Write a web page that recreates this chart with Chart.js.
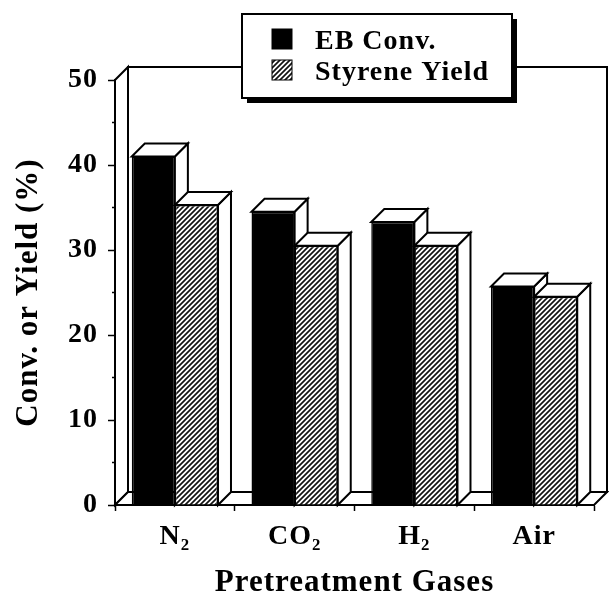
<!DOCTYPE html>
<html><head><meta charset="utf-8">
<style>html,body{margin:0;padding:0;background:#fff}canvas{display:block}</style>
<script src="https://cdn.jsdelivr.net/npm/chart.js@4"></script></head>
<body><canvas id="c" width="609" height="595" style="width:609px;height:595px"></canvas>
<script>
const categories = ['N₂','CO₂','H₂','Air'];
const ebConv = [41, 34.5, 33.3, 25.7];
const styreneYield = [35.3, 30.5, 30.5, 24.5];
const yMinorTicks = [5,15,25,35,45];
const seriesNames = ['EB Conv.','Styrene Yield'];
const FONT = '"Liberation Serif","Times New Roman",serif';
const DEPTH = 13;

function hatch(){
  const s=5,t=document.createElement('canvas');t.width=s;t.height=s;
  const g=t.getContext('2d');g.fillStyle='#fff';g.fillRect(0,0,s,s);
  g.strokeStyle='#111';g.lineWidth=1.7;g.lineCap='square';
  g.beginPath();g.moveTo(-1,s+1);g.lineTo(s+1,-1);g.moveTo(-1,1);g.lineTo(1,-1);g.moveTo(s-1,s+1);g.lineTo(s+1,s-1);g.stroke();
  return g.createPattern(t,'repeat');
}
const hatchFill=hatch();

function poly(ctx,pts,fill){
  ctx.beginPath();pts.forEach((p,i)=>i?ctx.lineTo(p[0],p[1]):ctx.moveTo(p[0],p[1]));ctx.closePath();
  ctx.fillStyle=fill;ctx.fill();ctx.stroke();
}

const threeD={
  id:'threeD',
  beforeDraw(chart){ chart.ctx.letterSpacing='1px'; },
  beforeDatasetsDraw(chart){
    const {ctx,chartArea:a,scales:{y}}=chart,d=DEPTH;
    ctx.save();ctx.strokeStyle='#000';ctx.lineWidth=2;ctx.lineJoin='miter';
    poly(ctx,[[a.left+d,a.top-d],[a.right+d,a.top-d],[a.right+d,a.bottom-d],[a.left+d,a.bottom-d]],'#fff');
    poly(ctx,[[a.left,a.top],[a.left+d,a.top-d],[a.left+d,a.bottom-d],[a.left,a.bottom]],'#fff');
    poly(ctx,[[a.left,a.bottom],[a.left+d,a.bottom-d],[a.right+d,a.bottom-d],[a.right,a.bottom]],'#fff');
    // legend
    const lx=242,ly=14,lw=270,lh=84;
    ctx.fillStyle='#000';ctx.fillRect(lx+5,ly+5,lw,lh);
    ctx.fillStyle='#fff';ctx.fillRect(lx,ly,lw,lh);ctx.strokeRect(lx,ly,lw,lh);
    ctx.textBaseline='alphabetic';ctx.textAlign='left';ctx.font='bold 28px '+FONT;
    chart.data.datasets.forEach((ds,i)=>{
      const sy=ly+15+i*31;
      ctx.fillStyle=ds.backgroundColor;ctx.fillRect(lx+30,sy,20,20);ctx.lineWidth=1;ctx.strokeRect(lx+30,sy,20,20);
      ctx.fillStyle='#000';ctx.fillText(seriesNames[i],lx+73,sy+20);
    });
    // 3D side and top faces of the bars, category by category
    ctx.lineWidth=2;
    categories.forEach((_,k)=>{
      chart.data.datasets.forEach((ds,i)=>{
        const b=chart.getDatasetMeta(i).data[k],l=b.x-b.width/2,r=b.x+b.width/2,t=b.y,bt=y.getPixelForValue(0);
        poly(ctx,[[r,t],[r+d,t-d],[r+d,bt-d],[r,bt]],'#fff');
        poly(ctx,[[l,t],[l+d,t-d],[r+d,t-d],[r,t]],'#fff');
      });
    });
    // minor y ticks
    ctx.lineWidth=1.5;ctx.beginPath();
    yMinorTicks.forEach(v=>{const p=y.getPixelForValue(v);ctx.moveTo(a.left-3,p);ctx.lineTo(a.left,p);});
    ctx.stroke();
    ctx.restore();
  }
};

new Chart(document.getElementById('c'),{
  type:'bar',
  data:{labels:categories,datasets:[
    {label:seriesNames[0],data:ebConv,backgroundColor:'#000',borderColor:'#000',borderWidth:1.5},
    {label:seriesNames[1],data:styreneYield,backgroundColor:hatchFill,borderColor:'#000',borderWidth:1.5}
  ]},
  plugins:[threeD],
  options:{
    responsive:false,animation:false,devicePixelRatio:1,
    layout:{padding:{top:80,right:15,left:0,bottom:0}},
    plugins:{legend:{display:false},title:{display:false},tooltip:{enabled:false}},
    datasets:{bar:{categoryPercentage:0.72,barPercentage:1}},
    scales:{
      x:{
        grid:{display:true,drawOnChartArea:false,offset:true,color:'#000',tickLength:6,tickWidth:1.5,tickColor:'#000'},
        border:{color:'#000',width:2},
        ticks:{color:'#000',font:{family:FONT,weight:'bold',size:28},maxRotation:0,padding:9},
        title:{display:true,text:'Pretreatment Gases',color:'#000',font:{family:FONT,weight:'bold',size:31},padding:{top:6,bottom:-7}},
        afterFit(s){s.height=90;}
      },
      y:{
        min:0,max:50,
        grid:{display:true,drawOnChartArea:false,color:'#000',tickLength:7,tickWidth:1.5,tickColor:'#000'},
        border:{color:'#000',width:2},
        ticks:{stepSize:10,color:'#000',font:{family:FONT,weight:'bold',size:28},padding:10},
        title:{display:true,text:'Conv. or Yield (%)',color:'#000',font:{family:FONT,weight:'bold',size:31},padding:{top:10,bottom:0}},
        afterFit(s){s.width=115;}
      }
    }
  }
});
</script></body></html>
